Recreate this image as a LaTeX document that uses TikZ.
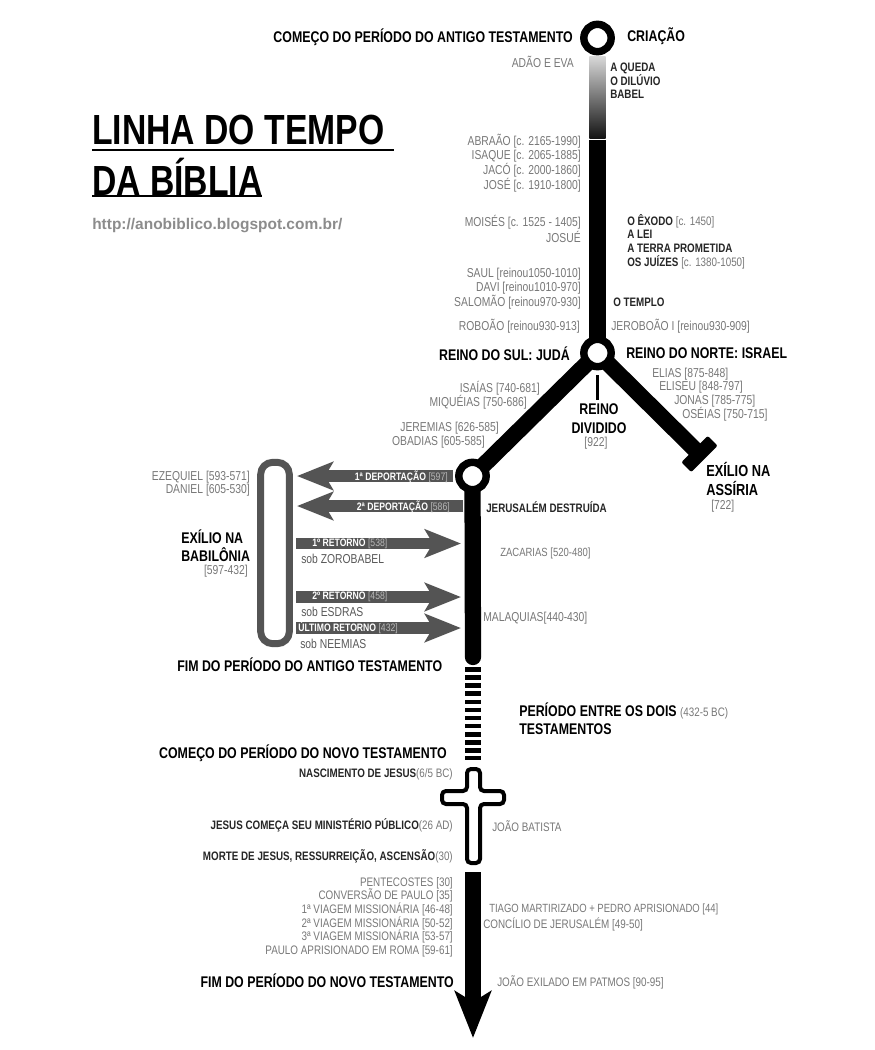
\documentclass[tikz,border=0pt]{standalone}
\usepackage{fontspec}
\usepackage{xcolor}
\setmainfont{Liberation Sans}
\newfontfamily\narrowfont[FakeStretch=0.8]{Liberation Sans}
\usetikzlibrary{arrows.meta, backgrounds}
\definecolor{txtgrey}{gray}{0.47}
\definecolor{arrowgrey}{gray}{0.33}
\newcommand{\dt}[1]{{\mdseries\color{txtgrey}#1}}
\newcommand{\dtb}[1]{{\mdseries\color{black!28}#1}}

\begin{document}
\begin{tikzpicture}[
    x=0.75pt, y=-0.75pt,
    hub/.style={
        circle, draw=black, fill=white, line width=5.6pt,
        minimum size=20.5pt, inner sep=0pt
    },
    spine/.style={draw=black, line width=12.2pt},
    spinearrow/.style={spine, -{Stealth[length=35pt, width=27pt, inset=8pt]}},
    stripes/.style={draw=black, line width=11.5pt, dash pattern=on 3.4pt off 2.7pt},
    moveout/.style={
        draw=arrowgrey, line width=8.5pt,
        -{Stealth[length=27pt, width=21pt, inset=6pt]}
    },
    greytxt/.style={
        font=\narrowfont\fontsize{9.7}{10.2}\selectfont,
        text=txtgrey, inner sep=0pt
    },
    lowtxt/.style={
        greytxt, font=\narrowfont\fontsize{9.25}{10.2}\selectfont
    },
    tighttxt/.style={
        greytxt, font=\narrowfont\fontsize{8.9}{10.2}\selectfont
    },
    boldtxt/.style={
        font=\narrowfont\bfseries\fontsize{11.6}{13.6}\selectfont,
        text=black, inner sep=0pt
    },
    minortxt/.style={
        font=\narrowfont\bfseries\fontsize{9.2}{10.2}\selectfont,
        text=black!85, inner sep=0pt
    },
    ontxt/.style={
        font=\narrowfont\bfseries\fontsize{8.1}{8}\selectfont,
        text=white, inner sep=0pt
    }
]
\useasboundingbox (0,0) rectangle (875,1050);

% --- Hubs along the line
\node (creation) [hub] at (597.5,38)  {};
\node (split)    [hub] at (597.5,353) {};
\node (judah)    [hub] at (472.5,476) {};
\node (assyria)  [draw=none, fill=black, rectangle, rounded corners=1.5pt, rotate=45,
                  minimum width=28pt, minimum height=10.5pt, inner sep=0pt] at (699.5,454) {};
\node (fade)     [rectangle, top color=black!15, bottom color=black!92, minimum width=12.2pt,
                  minimum height=61.5pt, inner sep=0pt] at (597.5,97) {};
\node (babylon)  [draw=arrowgrey, line width=5.2pt, rectangle, rounded corners=9pt,
                  minimum width=21.5pt, minimum height=136pt, inner sep=0pt] at (275,553) {};

% --- Free ends of the lines
\coordinate (solidtop) at (597.5,140);
\coordinate (oldstop)  at (473,657);
\coordinate (gapstart) at (473,667);
\coordinate (gapend)   at (473,760);
\coordinate (newstart) at (473,872);
\coordinate (newtip)   at (473,1038);
\coordinate (divtop)   at (597.5,375);
\coordinate (divend)   at (597.5,400);

\begin{pgfonlayer}{background}
\fill [white] (0,0) rectangle (875,1050);
\draw [spine] (solidtop) -- (split.center);
\draw [spine] (split.center) -- (judah.center);
\draw [spine] (split.center) -- (assyria.center);
\draw [spine, line cap=round] (judah.center) -- (oldstop);
\end{pgfonlayer}
\draw [line width=1.6pt] (divtop) -- (divend);
\draw [stripes] (gapstart) -- (gapend);
\draw [spinearrow] (newstart) -- (newtip);

% --- Title block
\node (title1) [font=\narrowfont\bfseries\fontsize{31.6}{36}\selectfont, anchor=west, inner sep=0pt] at (92,130) {LINHA DO TEMPO};
\node (title2) [font=\narrowfont\bfseries\fontsize{31.6}{36}\selectfont, anchor=west, inner sep=0pt] at (92,177) {DA BÍBLIA};
\coordinate (rule1a) at (92,150);
\coordinate (rule1b) at (394,150);
\coordinate (rule2a) at (92,196);
\coordinate (rule2b) at (262,196);
\draw [line width=2.2pt] (rule1a) -- (rule1b);
\draw [line width=2.2pt] (rule2a) -- (rule2b);
\node (site) [font=\bfseries\fontsize{11.6}{12}\selectfont, text=black!45, anchor=west, inner sep=0pt] at (92,226) {http://anobiblico.blogspot.com.br/};

% --- Cross
\draw [line width=3pt, fill=white, rounded corners=3pt]
    (467,769) -- (480,769) -- (480,791) -- (504,791) -- (504,804) -- (480,804)
    -- (480,863) -- (467,863) -- (467,804) -- (442,804) -- (442,791) -- (467,791) -- cycle;

% --- Deportations and returns
\coordinate (dep1a) at (453,476);
\coordinate (dep1b) at (297,476);
\coordinate (dep2a) at (463,506);
\coordinate (dep2b) at (297,506);
\coordinate (ret1a) at (296,543.5);
\coordinate (ret1b) at (461,543.5);
\coordinate (ret2a) at (296,597);
\coordinate (ret2b) at (461,597);
\coordinate (ret3a) at (296,628);
\coordinate (ret3b) at (461,628);
\foreach \from/\to in {dep1a/dep1b, dep2a/dep2b, ret1a/ret1b, ret2a/ret2b, ret3a/ret3b}
    \draw [moveout] (\from) -- (\to);

\node (dep1txt) [ontxt, anchor=east] at (448,477) {1ª DEPORTAÇÃO \dtb{[597]}};
\node (dep2txt) [ontxt, anchor=east] at (450,507) {2ª DEPORTAÇÃO \dtb{[586]}};
\node (ret1txt) [ontxt, anchor=west] at (312,544) {1º RETORNO \dtb{[538]}};
\node (ret2txt) [ontxt, anchor=west] at (312,597) {2º RETORNO \dtb{[458]}};
\node (ret3txt) [ontxt, anchor=west] at (298,628) {ÚLTIMO RETORNO \dtb{[432]}};
\node (ret1sub) [greytxt, anchor=west, text=black!65] at (301,559) {sob ZOROBABEL};
\node (ret2sub) [greytxt, anchor=west, text=black!65] at (301,612) {sob ESDRAS};
\node (ret3sub) [greytxt, anchor=west, text=black!65] at (300,644) {sob NEEMIAS};

% --- Labels, top to bottom
\node (oldstart) [boldtxt, anchor=east] at (573,37) {COMEÇO DO PERÍODO DO ANTIGO TESTAMENTO};
\node (crialbl)  [boldtxt, anchor=west] at (627,36) {CRIAÇÃO};
\node (adam)     [greytxt, anchor=east] at (574,62) {ADÃO E EVA};
\node (fall)     [minortxt, anchor=west, align=left] at (610,81) {A QUEDA\\O DILÚVIO\\BABEL};
\node (fathers)  [greytxt, anchor=east, align=right] at (581,163.5) {ABRAÃO [c. 2165-1990]\\ISAQUE [c. 2065-1885]\\JACÓ [c. 2000-1860]\\JOSÉ [c. 1910-1800]};
\node (moses)    [greytxt, anchor=east, align=right] at (581,229) {MOISÉS [c. 1525 - 1405]\\JOSUÉ};
\node (exodus)   [minortxt, anchor=west, align=left] at (627,241.5) {O ÊXODO \dt{[c. 1450]}\\A LEI\\A TERRA PROMETIDA\\OS JUÍZES \dt{[c. 1380-1050]}};
\node (kings)    [greytxt, anchor=east, align=right] at (581,289) {SAUL [reinou1050-1010]\\DAVI [reinou1010-970]\\SALOMÃO [reinou970-930]};
\node (temple)   [minortxt, anchor=west] at (613,302) {O TEMPLO};
\node (rehoboam) [greytxt, anchor=east] at (580,326) {ROBOÃO [reinou930-913]};
\node (jeroboam) [greytxt, anchor=west] at (611,326) {JEROBOÃO I [reinou930-909]};
\node (south)    [boldtxt, anchor=east] at (570,354) {REINO DO SUL: JUDÁ};
\node (north)    [boldtxt, anchor=west] at (626,353) {REINO DO NORTE: ISRAEL};
\node (isaiah)   [greytxt, anchor=east] at (540,388) {ISAÍAS [740-681]};
\node (micah)    [greytxt, anchor=east] at (527,402) {MIQUÉIAS [750-686]};
\node (jeremiah) [greytxt, anchor=east] at (499,428) {JEREMIAS [626-585]};
\node (obadiah)  [greytxt, anchor=east] at (485,442) {OBADIAS [605-585]};
\node (elijah)   [greytxt, anchor=west] at (652,374) {ELIAS [875-848]};
\node (elisha)   [greytxt, anchor=west] at (659,387) {ELISEU [848-797]};
\node (jonah)    [greytxt, anchor=west] at (674,401) {JONAS [785-775]};
\node (hosea)    [greytxt, anchor=west] at (682,414) {OSÉIAS [750-715]};
\node (divided)  [boldtxt, align=center, font=\narrowfont\bfseries\fontsize{11.6}{14}\selectfont] at (599,418.5) {REINO\\DIVIDIDO};
\node (year922)  [greytxt] at (596,443) {[922]};
\node (exass)    [boldtxt, anchor=west, align=left, font=\narrowfont\bfseries\fontsize{12}{13.6}\selectfont] at (706,479) {EXÍLIO NA\\ASSÍRIA};
\node (year722)  [greytxt, anchor=west] at (711,506) {[722]};
\node (jerusalem)[minortxt, anchor=west] at (486,507) {JERUSALÉM DESTRUÍDA};
\node (ezekiel)  [greytxt, anchor=east, align=right] at (250,483.5) {EZEQUIEL [593-571]\\DANIEL [605-530]};
\node (exbab)    [boldtxt, anchor=west, align=left, font=\narrowfont\bfseries\fontsize{11.6}{13.6}\selectfont] at (181,546) {EXÍLIO NA\\BABILÔNIA};
\node (babyears) [greytxt, anchor=east] at (248,571) {[597-432]};
\node (zechariah)[tighttxt, anchor=west] at (500,553) {ZACARIAS [520-480]};
\node (malachi)  [greytxt, anchor=west] at (483,618) {MALAQUIAS[440-430]};
\node (oldend)   [boldtxt, anchor=west] at (177,665) {FIM DO PERÍODO DO ANTIGO TESTAMENTO};
\node (between)  [boldtxt, anchor=west, align=left] at (519,718.5) {PERÍODO ENTRE OS DOIS {\fontsize{9.2}{10}\selectfont\dt{(432-5 BC)}}\\TESTAMENTOS};
\node (newbegin) [boldtxt, anchor=east] at (447,753) {COMEÇO DO PERÍODO DO NOVO TESTAMENTO};
\node (birth)    [minortxt, anchor=east] at (453,774) {NASCIMENTO DE JESUS\dt{(6/5 BC)}};
\node (ministry) [minortxt, anchor=east] at (453,825) {JESUS COMEÇA SEU MINISTÉRIO PÚBLICO\dt{(26 AD)}};
\node (baptist)  [lowtxt, anchor=west] at (492,826) {JOÃO BATISTA};
\node (death)    [minortxt, anchor=east] at (453,856) {MORTE DE JESUS, RESSURREIÇÃO, ASCENSÃO\dt{(30)}};
\node (church)   [lowtxt, anchor=east, align=right] at (453,917) {PENTECOSTES [30]\\CONVERSÃO DE PAULO [35]\\1ª VIAGEM MISSIONÁRIA [46-48]\\2ª VIAGEM MISSIONÁRIA [50-52]\\3ª VIAGEM MISSIONÁRIA [53-57]\\PAULO APRISIONADO EM ROMA [59-61]};
\node (james)    [tighttxt, anchor=west] at (489,909) {TIAGO MARTIRIZADO + PEDRO APRISIONADO [44]};
\node (council)  [lowtxt, anchor=west] at (483,924) {CONCÍLIO DE JERUSALÉM [49-50]};
\node (newend)   [boldtxt, anchor=east] at (454,981) {FIM DO PERÍODO DO NOVO TESTAMENTO};
\node (patmos)   [lowtxt, anchor=west] at (497,982) {JOÃO EXILADO EM PATMOS [90-95]};

\end{tikzpicture}
\end{document}
